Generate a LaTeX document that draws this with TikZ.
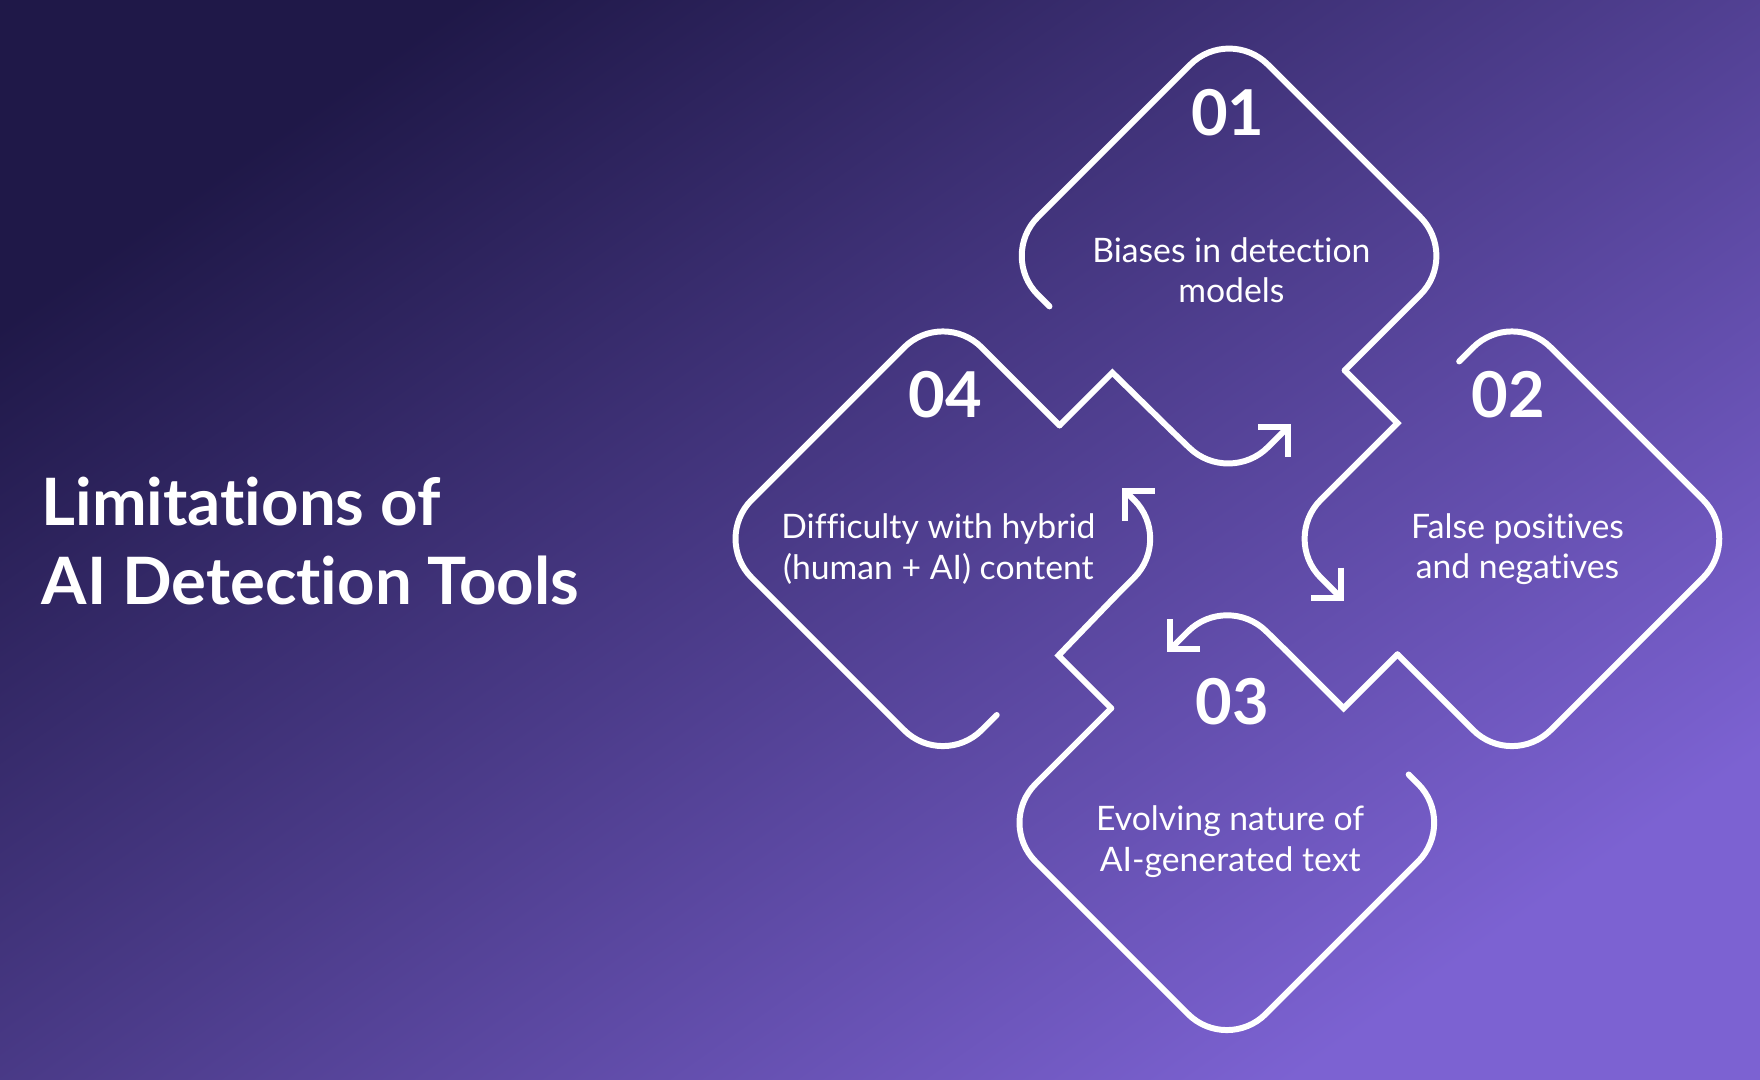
\documentclass[tikz,border=0pt]{standalone}
\usepackage{fontspec}
\setmainfont{Lato}[Ligatures={NoCommon,NoRare}]
\usetikzlibrary{arrows.meta}
\definecolor{bgA}{HTML}{1F1848}
\definecolor{bgB}{HTML}{7C62D2}
\tikzset{
  loopline/.style={draw=white,line width=1.7pt,line cap=round,line join=round,rounded corners=0.55cm},
  notch/.style={draw=white,line width=1.7pt,line cap=round,line join=miter},
  arr/.style={loopline,-{Straight Barb[length=6pt,width=12pt,line width=1.7pt]}},
  num/.style={text=white,font=\fontsize{18}{20}\selectfont\bfseries},
  body/.style={text=white,font=\fontsize{9.6}{11.5}\selectfont,align=center},
}
\begin{document}
\begin{tikzpicture}[x=0.011224cm,y=-0.011224cm]
\useasboundingbox (0,0) rectangle (1568,962);
\shade[top color=bgA,bottom color=bgB,shading angle=35] (0,0) rectangle (1568,962);
% shape 1
\draw[loopline] (935,273) -- (890,228) -- (1095,23) -- (1300,228) -- (1198,330);
\draw[notch] (1198,330) -- (1245,377) -- (1193,429);
\draw[arr] (1193,429) -- (1142,480) -- (1197,535);
% shape 2
\draw[loopline] (1300,322) -- (1347,275) -- (1552,480) -- (1347,685) -- (1245,583);
\draw[notch] (1245,583) -- (1197,631) -- (1145,579);
\draw[arr] (1145,579) -- (1093,528) -- (1040,581);
% shape 3
\draw[loopline] (1255,690) -- (1298,733) -- (1093,938) -- (888,733) -- (990,631);
\draw[notch] (990,631) -- (943,584) -- (994,531);
\draw[arr] (994,531) -- (1045,480) -- (1000,435);
% shape 4
\draw[loopline] (888,637) -- (840,685) -- (635,480) -- (840,275) -- (944,379);
\draw[notch] (944,379) -- (991,332) -- (1043,383);
\draw[arr] (1043,383) -- (1095,433) -- (1150,378);
\node[num] (n1) at (1094,100) {01};
\node[num] (n2) at (1344,352) {02};
\node[num] (n3) at (1098,625) {03};
\node[num] (n4) at (842,352) {04};
\node[body] (t1) at (1097,241) {Biases in detection\\models};
\node[body] (t2) at (1352,489) {False positives\\and negatives};
\node[body] (t3) at (1096,750) {Evolving nature of\\AI-generated text};
\node[body] (t4) at (836,489) {Difficulty with hybrid\\(human + AI) content};
\node[anchor=west,text=white,align=left,font=\fontsize{18.6}{22.5}\selectfont\bfseries] (title) at (26,482) {Limitations of\\AI Detection Tools};
\end{tikzpicture}
\end{document}
